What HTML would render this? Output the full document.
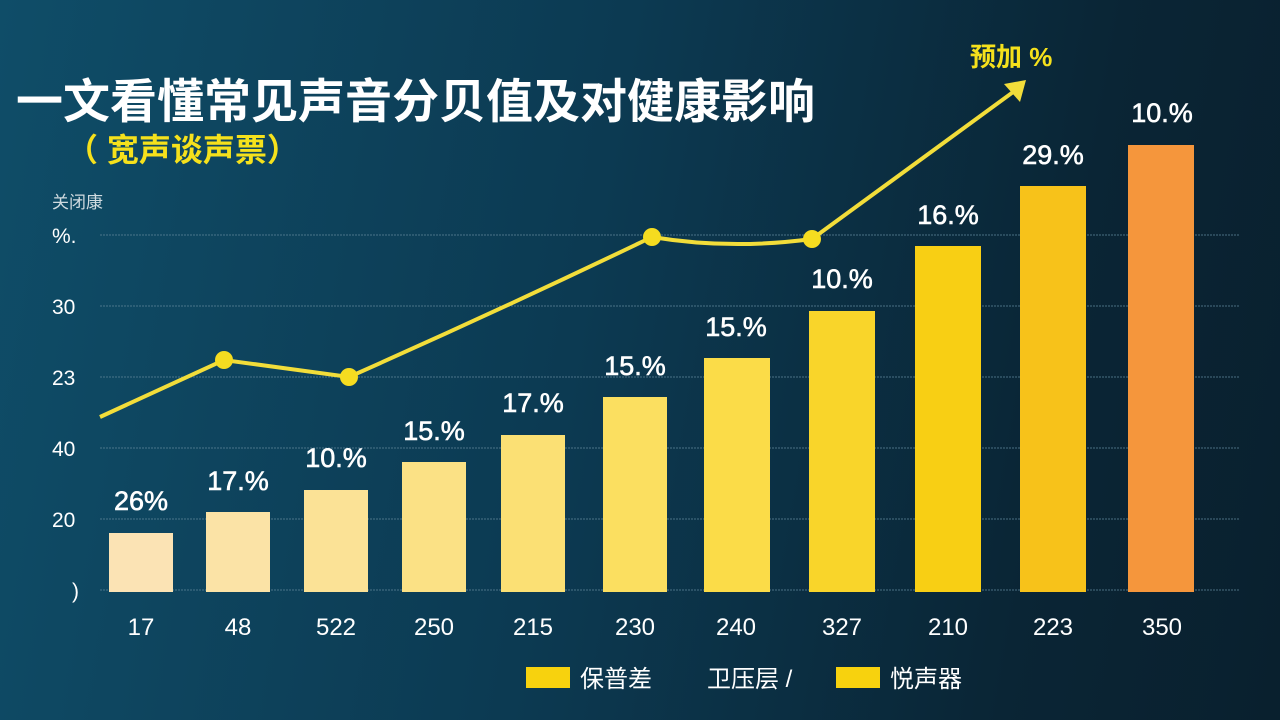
<!DOCTYPE html>
<html><head><meta charset="utf-8"><style>
body{margin:0;width:1280px;height:720px;overflow:hidden;background:linear-gradient(100deg,#0f4d68 0%,#0c3a52 45%,#0a2535 80%,#09202e 100%);font-family:"Liberation Sans","Noto Sans CJK SC",sans-serif;}
</style></head><body>
<svg width="1280" height="720" xmlns="http://www.w3.org/2000/svg" style="position:absolute;left:0;top:0">
<text x="16" y="118" font-size="47" font-weight="bold" fill="#fff" font-family="Liberation Sans,Noto Sans CJK SC,sans-serif">一文看懂常见声音分贝值及对健康影响</text>
<text x="66" y="161" font-size="32" font-weight="bold" fill="#f5e11c" font-family="Liberation Sans,Noto Sans CJK SC,sans-serif">（ 宽声谈声票）</text>
<text x="52" y="208" font-size="17" fill="#d0dbe0" font-family="Liberation Sans,Noto Sans CJK SC,sans-serif">关闭康</text>
<g stroke="#5b8296" stroke-width="1" stroke-dasharray="2 1" opacity="0.8">
<line x1="100" x2="1240" y1="235" y2="235"/><line x1="100" x2="1240" y1="306" y2="306"/><line x1="100" x2="1240" y1="377" y2="377"/><line x1="100" x2="1240" y1="448" y2="448"/><line x1="100" x2="1240" y1="519" y2="519"/><line x1="100" x2="1240" y1="590" y2="590"/>
</g>
<g font-size="21" fill="#fff" font-family="Liberation Sans,sans-serif">
<text x="52" y="243">%.</text><text x="52" y="314">30</text><text x="52" y="385">23</text><text x="52" y="456">40</text><text x="52" y="527">20</text><text x="72" y="598">)</text>
</g>
<g>
<rect x="109" y="533" width="64" height="59" fill="#fbe3b4"/>
<rect x="206" y="512" width="64" height="80" fill="#fbe3a6"/>
<rect x="304" y="490" width="64" height="102" fill="#fbe296"/>
<rect x="402" y="462" width="64" height="130" fill="#fbe185"/>
<rect x="501" y="435" width="64" height="157" fill="#fbe074"/>
<rect x="603" y="397" width="64" height="195" fill="#fbdf60"/>
<rect x="704" y="358" width="66" height="234" fill="#fbdc48"/>
<rect x="809" y="311" width="66" height="281" fill="#f9d52a"/>
<rect x="915" y="246" width="66" height="346" fill="#f8cf14"/>
<rect x="1020" y="186" width="66" height="406" fill="#f7c21a"/>
<rect x="1128" y="145" width="66" height="447" fill="#f5963c"/>
</g>
<g font-size="27" fill="#fff" text-anchor="middle" font-family="Liberation Sans,sans-serif" stroke="#fff" stroke-width="0.6">
<text x="141" y="510">26%</text><text x="238" y="490">17.%</text><text x="336" y="467">10.%</text><text x="434" y="440">15.%</text><text x="533" y="412">17.%</text><text x="635" y="375">15.%</text><text x="736" y="336">15.%</text><text x="842" y="288">10.%</text><text x="948" y="224">16.%</text><text x="1053" y="164">29.%</text><text x="1162" y="122">10.%</text>
</g>
<g font-size="24" fill="#fff" text-anchor="middle" font-family="Liberation Sans,sans-serif">
<text x="141" y="635">17</text><text x="238" y="635">48</text><text x="336" y="635">522</text><text x="434" y="635">250</text><text x="533" y="635">215</text><text x="635" y="635">230</text><text x="736" y="635">240</text><text x="842" y="635">327</text><text x="948" y="635">210</text><text x="1053" y="635">223</text><text x="1162" y="635">350</text>
</g>
<path d="M100,417 L224,360 L349,377 Q500,310 652,237 Q730,250 812,239 Q920,160 1020,87" fill="none" stroke="#f2dd3a" stroke-width="4"/>
<path d="M1004,84 L1026,80 L1020,102 Z" fill="#f2dd3a"/>
<g fill="#f5dc20"><circle cx="224" cy="360" r="9"/><circle cx="349" cy="377" r="9"/><circle cx="652" cy="237" r="9"/><circle cx="812" cy="239" r="9"/></g>
<text x="970" y="66" font-size="26" font-weight="bold" fill="#f5e11c" font-family="Liberation Sans,Noto Sans CJK SC,sans-serif">预加 %</text>
<rect x="526" y="667" width="44" height="21" fill="#f7d20e"/>
<text x="580" y="687" font-size="24" fill="#fff" font-family="Liberation Sans,Noto Sans CJK SC,sans-serif">保普差</text>
<text x="707" y="687" font-size="24" fill="#fff" font-family="Liberation Sans,Noto Sans CJK SC,sans-serif">卫压层  /</text>
<rect x="836" y="667" width="44" height="21" fill="#f7d20e"/>
<text x="890" y="687" font-size="24" fill="#fff" font-family="Liberation Sans,Noto Sans CJK SC,sans-serif">悦声器</text>
</svg>
</body></html>
